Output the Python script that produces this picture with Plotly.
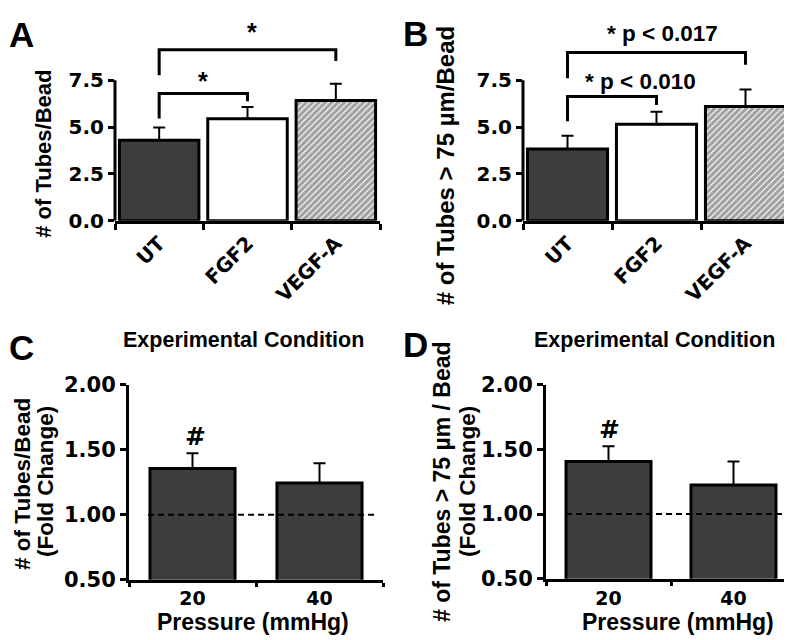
import plotly.graph_objects as go

W, H = 792, 640

# ---------------- data ----------------
cats_ab = ["UT", "FGF2", "VEGF-A"]
a_mean = [4.29, 5.44, 6.41]
a_sem = [0.69, 0.63, 0.90]
b_mean = [3.83, 5.15, 6.09]
b_sem = [0.71, 0.67, 0.91]

cats_cd = ["20", "40"]
c_mean = [1.355, 1.245]
c_sem = [0.118, 0.152]
d_mean = [1.407, 1.224]
d_sem = [0.118, 0.183]

yticks_ab = [0, 2.5, 5.0, 7.5]
yticklabels_ab = ["0.0", "2.5", "5.0", "7.5"]
yticks_cd = [0.5, 1.0, 1.5, 2.0]
yticklabels_cd = ["0.50", "1.00", "1.50", "2.00"]
baseline_cd = 1.0

# significance brackets (x = categories, y = data units)
a_br1_x = ["UT", "UT", "FGF2", "FGF2"]
a_br1_y = [5.46, 6.79, 6.79, 6.38]
a_br2_x = ["UT", "UT", "VEGF-A", "VEGF-A"]
a_br2_y = [7.76, 9.13, 9.13, 8.52]
b_br1_x = ["UT", "UT", "FGF2", "FGF2"]
b_br1_y = [5.31, 6.63, 6.63, 6.17]
b_br2_x = ["UT", "UT", "VEGF-A", "VEGF-A"]
b_br2_y = [7.60, 8.98, 8.98, 8.32]

# ---------------- styles ----------------
DARK = "#3d3d3d"
TXT = "Liberation Sans, Arial, sans-serif"
NUM = "DejaVu Sans, sans-serif"
bar_colors_ab = [DARK, "white", "white"]
bar_patterns_ab = ["", "", "/"]

fig = go.Figure()


def add_bars(x, y, err, xa, ya, colors, patterns=None, width=0.9):
    marker = dict(color=colors, line=dict(color="black", width=3))
    if patterns is not None:
        marker["pattern"] = dict(shape=patterns, fgcolor="#000000", size=4.5, solidity=0.75)
    fig.add_trace(go.Bar(
        x=x, y=y, xaxis=xa, yaxis=ya, width=width, marker=marker,
        error_y=dict(type="data", symmetric=False, array=err, arrayminus=[0] * len(err),
                     color="black", thickness=2, width=6),
        showlegend=False, hoverinfo="skip"))


def add_bracket(x, y, xa, ya):
    fig.add_trace(go.Scatter(x=x, y=y, xaxis=xa, yaxis=ya, mode="lines",
                             line=dict(color="black", width=3),
                             showlegend=False, hoverinfo="skip"))


add_bars(cats_ab, a_mean, a_sem, "x", "y", bar_colors_ab, bar_patterns_ab, 0.9)
add_bars(cats_ab, b_mean, b_sem, "x2", "y2", bar_colors_ab, bar_patterns_ab, 0.9)
add_bars(cats_cd, c_mean, c_sem, "x3", "y3", [DARK, DARK], None, 0.67)
add_bars(cats_cd, d_mean, d_sem, "x4", "y4", [DARK, DARK], None, 0.68)

add_bracket(a_br1_x, a_br1_y, "x", "y")
add_bracket(a_br2_x, a_br2_y, "x", "y")
add_bracket(b_br1_x, b_br1_y, "x2", "y2")
add_bracket(b_br2_x, b_br2_y, "x2", "y2")


def px_x(p):
    return p / W


def px_y(p):
    return 1 - p / H


def bold(family, size):
    return dict(family=family, size=size, color="black", weight="bold")


xcommon = dict(type="category", showline=True, linewidth=3, linecolor="black",
               ticks="outside", tickson="boundaries", ticklen=6, tickwidth=3,
               tickcolor="black", showgrid=False, zeroline=False, fixedrange=True)
ycommon = dict(showgrid=False, zeroline=False, ticks="outside", ticklen=6, tickwidth=3,
               tickcolor="black", fixedrange=True)
ab_top = 210 / 19.6

layout_axes = dict(
    xaxis=dict(xcommon, domain=[px_x(107), px_x(372)], anchor="y", range=[-0.5, 2.5],
               tickangle=-45, tickfont=bold(NUM, 20)),
    yaxis=dict(ycommon, domain=[px_y(208.5), 1], anchor="x", range=[0, ab_top], showline=False,
               tickvals=yticks_ab, ticktext=yticklabels_ab, tickfont=bold(NUM, 20)),
    xaxis2=dict(xcommon, domain=[px_x(515), px_x(782)], anchor="y2", range=[-0.5, 2.5],
                tickangle=-45, tickfont=bold(NUM, 20)),
    yaxis2=dict(ycommon, domain=[px_y(208.5), 1], anchor="x2", range=[0, ab_top], showline=False,
                tickvals=yticks_ab, ticktext=yticklabels_ab, tickfont=bold(NUM, 20)),
    xaxis3=dict(xcommon, domain=[px_x(121), px_x(375)], anchor="y3", range=[-0.5, 1.5],
                ticklen=4, tickfont=bold(NUM, 19)),
    yaxis3=dict(ycommon, domain=[px_y(581.5), px_y(379)], anchor="x3", range=[0.5, 2.0],
                showline=True, linewidth=3, linecolor="black",
                tickvals=yticks_cd, ticktext=yticklabels_cd, tickfont=bold(NUM, 21)),
    xaxis4=dict(xcommon, domain=[px_x(538), px_x(788)], anchor="y4", range=[-0.5, 1.5],
                ticklen=4, tickfont=bold(NUM, 19)),
    yaxis4=dict(ycommon, domain=[px_y(580.5), px_y(379)], anchor="x4", range=[0.5, 2.0],
                showline=True, linewidth=3, linecolor="black",
                tickvals=yticks_cd, ticktext=yticklabels_cd, tickfont=bold(NUM, 21)),
)

shapes = [
    # y-axis lines of A and B (stop at the top tick)
    dict(type="line", xref="x domain", yref="y", x0=0, x1=0, y0=0, y1=yticks_ab[-1],
         line=dict(color="black", width=3)),
    dict(type="line", xref="x2 domain", yref="y2", x0=0, x1=0, y0=0, y1=yticks_ab[-1],
         line=dict(color="black", width=3)),
    # dashed baselines of C and D
    dict(type="line", xref="x3", yref="y3", x0=-0.35, x1=1.445, y0=baseline_cd, y1=baseline_cd,
         line=dict(color="black", width=2, dash="6px,4px"), layer="above"),
    dict(type="line", xref="x4", yref="y4", x0=-0.34, x1=1.5, y0=baseline_cd, y1=baseline_cd,
         line=dict(color="black", width=2, dash="6px,4px"), layer="above"),
]


def ann(text, x, y, size, xref="paper", yref="paper", angle=0, xanchor="center",
        yanchor="middle", family=TXT):
    return dict(text=text, x=x, y=y, xref=xref, yref=yref, showarrow=False,
                textangle=angle, xanchor=xanchor, yanchor=yanchor, borderpad=0,
                font=bold(family, size))


annotations = [
    ann("A", px_x(0), px_y(15), 35, xanchor="left"),
    ann("B", px_x(394), px_y(14), 35, xanchor="left"),
    ann("C", px_x(0), px_y(340), 35, xanchor="left"),
    ann("D", px_x(394), px_y(337), 35, xanchor="left"),
    # stars / p-values
    ann("*", 0.5, 7.45, 25, xref="x", yref="y"),
    ann("*", 1.05, 10.1, 25, xref="x", yref="y"),
    ann("* p < 0.010", 0.815, 7.45, 22.5, xref="x2", yref="y2"),
    ann("* p < 0.017", 1.07, 10.0, 22.5, xref="x2", yref="y2"),
    ann("#", 0.02, 1.60, 25, xref="x3", yref="y3", family=NUM),
    ann("#", 0.01, 1.655, 25, xref="x4", yref="y4", family=NUM),
    # axis titles
    ann("# of Tubes/Bead", px_x(36), px_y(139), 22, angle=-90),
    ann("# of Tubes &gt; 75 µm/Bead", px_x(437), px_y(152), 24, angle=-90),
    ann("# of Tubes/Bead", px_x(15), px_y(482), 22.5, angle=-90),
    ann("(Fold Change)", px_x(37), px_y(480), 22.5, angle=-90),
    ann("# of Tubes &gt; 75 µm / Bead", px_x(434), px_y(480), 23, angle=-90),
    ann("(Fold Change)", px_x(459), px_y(480), 22.5, angle=-90),
    ann("Experimental Condition", px_x(235), px_y(332), 21.5),
    ann("Experimental Condition", px_x(646), px_y(332), 21.5),
    ann("Pressure (mmHg)", px_x(245), px_y(640), 23, yanchor="bottom"),
    ann("Pressure (mmHg)", px_x(670), px_y(640), 23, yanchor="bottom"),
]

fig.update_layout(
    width=W, height=H, margin=dict(l=0, r=0, t=0, b=0),
    paper_bgcolor="white", plot_bgcolor="white", showlegend=False,
    bargap=0.1, shapes=shapes, annotations=annotations, **layout_axes)

fig.write_html("out.html")
